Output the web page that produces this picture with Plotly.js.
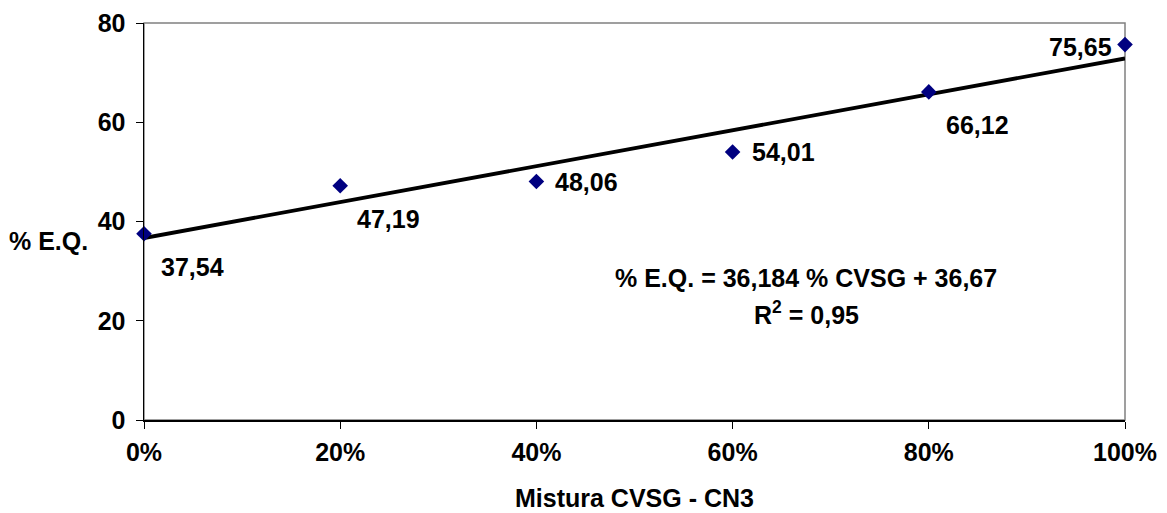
<!DOCTYPE html>
<html>
<head>
<meta charset="utf-8">
<script src="https://cdn.plot.ly/plotly-3.0.1.min.js"></script>
<style>html,body{margin:0;padding:0;background:#fff;}#chart{width:1167px;height:513px;}</style>
</head>
<body>
<div id="chart"></div>
<script>
const mixLevels = [0, 0.2, 0.4, 0.6, 0.8, 1.0];
const eqValues = [37.54, 47.19, 48.06, 54.01, 66.12, 75.65];
const pointLabels = ["37,54", "47,19", "48,06", "54,01", "66,12", "75,65"];
const labelSide = ["below", "below", "right", "right", "below", "left"];
const trendSlope = 36.184;
const trendIntercept = 36.67;
const trendX = [0, 1];
const yTicks = [0, 20, 40, 60, 80];
const xTicks = [0, 0.2, 0.4, 0.6, 0.8, 1.0];
const xTickText = ["0%", "20%", "40%", "60%", "80%", "100%"];
const equationText = "% E.Q. = 36,184 % CVSG + 36,67";
const r2Text = "R<sup>2</sup> = 0,95";
const xTitle = "Mistura CVSG - CN3";
const yTitle = "% E.Q.";

const FONT = "Liberation Sans, Arial, sans-serif";
const fontBold = {family: FONT, size: 25, color: "#000"};

const traces = [
  {
    x: trendX,
    y: trendX.map(v => trendSlope * v + trendIntercept),
    mode: "lines",
    line: {color: "#000", width: 3.8},
    hoverinfo: "skip",
    showlegend: false
  },
  {
    x: mixLevels,
    y: eqValues,
    mode: "markers",
    marker: {symbol: "diamond", size: 12, color: "#000080"},
    cliponaxis: false,
    showlegend: false
  }
];

const annotations = mixLevels.map((x, i) => {
  const side = labelSide[i];
  let a = {x: x, y: eqValues[i], xref: "x", yref: "y", text: "<b>" + pointLabels[i] + "</b>",
    showarrow: false, font: fontBold};
  if (side === "below") { a.xanchor = "left"; a.yanchor = "middle"; a.xshift = 15; a.yshift = -33; }
  else if (side === "right") { a.xanchor = "left"; a.yanchor = "middle"; a.xshift = 17; a.yshift = 0; }
  else { a.xanchor = "right"; a.yanchor = "middle"; a.xshift = -11; a.yshift = -2; }
  return a;
});
annotations.push(
  {x: 806, y: 278, xref: "paper", yref: "paper", text: "<b>" + equationText + "</b>", showarrow: false,
   font: fontBold, xanchor: "center", yanchor: "middle"},
  {x: 806, y: 313, xref: "paper", yref: "paper", text: "<b>" + r2Text + "</b>", showarrow: false,
   font: fontBold, xanchor: "center", yanchor: "middle"},
  {x: 634, y: 498, xref: "paper", yref: "paper", text: "<b>" + xTitle + "</b>", showarrow: false,
   font: fontBold, xanchor: "center", yanchor: "middle"},
  {x: 48, y: 241, xref: "paper", yref: "paper", text: "<b>" + yTitle + "</b>", showarrow: false,
   font: fontBold, xanchor: "center", yanchor: "middle"}
);
const L = 144, R = 42, T = 23, B = 93, W = 1167, H = 513;
const pw = W - L - R, ph = H - T - B;
annotations.forEach(a => {
  if (a.xref === "paper") {
    a.x = (a.x - L) / pw;
    a.y = 1 - (a.y - T) / ph;
  }
});

const layout = {
  width: W, height: H,
  margin: {l: L, r: R, t: T, b: B, pad: 0},
  paper_bgcolor: "#fff", plot_bgcolor: "#fff",
  font: fontBold,
  xaxis: {
    range: [0, 1], tickvals: xTicks, ticktext: xTickText.map(t => "<b>" + t + "</b>"),
    ticks: "outside", ticklen: 7, tickcolor: "#000", tickwidth: 1,
    showline: true, linecolor: "#000", linewidth: 1.5,
    showgrid: false, zeroline: false, tickfont: fontBold, ticklabelstandoff: 2
  },
  yaxis: {
    range: [0, 80], tickvals: yTicks, ticktext: yTicks.map(t => "<b>" + t + "</b>"),
    ticks: "outside", ticklen: 7, tickcolor: "#000", tickwidth: 1,
    showline: true, linecolor: "#000", linewidth: 1.5,
    showgrid: false, zeroline: false, tickfont: fontBold, ticklabelstandoff: 5
  },
  shapes: [
    {type: "rect", xref: "paper", yref: "paper", x0: 0, x1: 1, y0: 0, y1: 1,
     line: {color: "#808080", width: 1.5}, layer: "below"}
  ],
  annotations: annotations,
  showlegend: false
};

Plotly.newPlot("chart", traces, layout, {displayModeBar: false, staticPlot: true});
</script>
</body>
</html>
